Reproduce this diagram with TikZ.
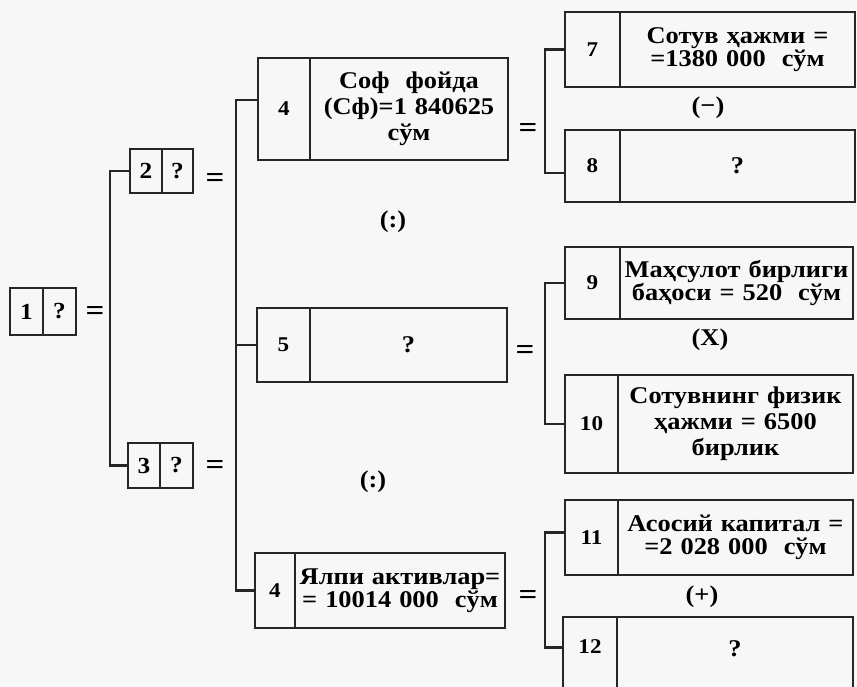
\documentclass[tikz,border=0pt]{standalone}
\usepackage{fontspec}
\setmainfont{Liberation Serif}[FakeStretch=1.1]
\begin{document}
\begin{tikzpicture}[x=1pt,y=-1pt,
  every node/.style={inner sep=0pt, outer sep=0pt},
  ln/.style={line width=2.2pt, draw=black!85},
  cell/.style={ln, rectangle, anchor=north west, font=\bfseries\fontsize{21}{22}\selectfont},
  bigcell/.style={cell, font=\bfseries\fontsize{23}{25}\selectfont},
  tcell/.style={ln, rectangle, anchor=north west, align=center, font=\bfseries\fontsize{24}{23}\selectfont},
  tcellw/.style={tcell, font=\bfseries\fontsize{24}{26}\selectfont},
  qm/.style={font=\bfseries\fontsize{24}{26}\selectfont},
  op/.style={font=\bfseries\fontsize{24}{26}\selectfont},
  eq/.style={font=\bfseries\fontsize{30}{30}\selectfont},
  conn/.style={ln, line cap=rect}
]
\fill[black!3] (0,0) rectangle (857,687);
\clip (0,0) rectangle (857,687);

% box 1
\node[bigcell, minimum width=33pt, minimum height=47pt] (b1n) at (10,288) {1};
\node[bigcell, minimum width=33pt, minimum height=47pt] (b1t) at (43,288) {?};
\node[eq] (e1) at (95,313) {=};

% box 2
\node[bigcell, minimum width=32pt, minimum height=44pt] (b2n) at (130,149) {2};
\node[bigcell, minimum width=31pt, minimum height=44pt] (b2t) at (162,149) {?};
\node[eq] (e2) at (215,180) {=};

% box 3
\node[bigcell, minimum width=32pt, minimum height=45pt] (b3n) at (128,443) {3};
\node[bigcell, minimum width=33pt, minimum height=45pt] (b3t) at (160,443) {?};
\node[eq] (e3) at (215,467) {=};

% box 4 (top)
\node[cell, minimum width=52pt, minimum height=102pt] (b4n) at (258,58) {4};
\node[tcellw, minimum width=198pt, minimum height=102pt, text width=198pt] (b4t) at (310,58) {Соф\ \ фойда\\(Сф)=1 840625\\сўм};
\node[eq] (e4) at (528,130) {=};

% box 5
\node[cell, minimum width=53pt, minimum height=74pt] (b5n) at (257,308) {5};
\node[cell, minimum width=197pt, minimum height=74pt, qm] (b5t) at (310,308) {?};
\node[eq] (e5) at (525,352) {=};

% box 4 (bottom)
\node[cell, minimum width=40pt, minimum height=75pt] (b4bn) at (255,553) {4};
\node[tcell, minimum width=210pt, minimum height=75pt, text width=210pt] (b4bt) at (295,553) {Ялпи активлар=\\= 10014 000 \ сўм};
\node[eq] (e6) at (528,597) {=};

% box 7
\node[cell, minimum width=55pt, minimum height=75pt] (b7n) at (565,12) {7};
\node[tcell, minimum width=235pt, minimum height=75pt, text width=235pt] (b7t) at (620,12) {Сотув ҳажми =\\=1380 000 \ сўм};
% box 8
\node[cell, minimum width=55pt, minimum height=72pt] (b8n) at (565,130) {8};
\node[cell, minimum width=235pt, minimum height=72pt, qm] (b8t) at (620,130) {?};
% box 9
\node[cell, minimum width=55pt, minimum height=72pt] (b9n) at (565,247) {9};
\node[tcell, minimum width=233pt, minimum height=72pt, text width=233pt] (b9t) at (620,247) {Маҳсулот бирлиги\\баҳоси = 520 \ сўм};
% box 10
\node[cell, minimum width=53pt, minimum height=98pt] (b10n) at (565,375) {10};
\node[tcellw, minimum width=235pt, minimum height=98pt, text width=235pt] (b10t) at (618,375) {Сотувнинг физик\\ҳажми = 6500\\бирлик};
% box 11
\node[cell, minimum width=53pt, minimum height=75pt] (b11n) at (565,500) {11};
\node[tcell, minimum width=235pt, minimum height=75pt, text width=235pt] (b11t) at (618,500) {Асосий капитал =\\=2 028 000 \ сўм};
% box 12
\node[cell, minimum width=54pt, minimum height=83pt] (b12n) at (563,617) {};
\node[cell, minimum width=236pt, minimum height=83pt] (b12t) at (617,617) {};
\node[cell, draw=none, anchor=center] (b12lab) at (590,647) {12};
\node[qm] (b12q) at (735,649) {?};

% operation labels
\node[op] (o1) at (708,108) {(−)};
\node[op] (o2) at (710,340) {(X)};
\node[op] (o3) at (702,597) {(+)};
\node[op] (o4) at (393,222) {(:)};
\node[op] (o5) at (373,482) {(:)};

% connectors (brackets)
\draw[conn] (b2n.west) -- ++(-20,0) |- (b3n.west);
\draw[conn] ([yshift=9pt]b4n.west) -- ++(-22,0) |- (b4bn.west);
\draw[conn] (b5n.west) -- ++(-21,0);
\draw[conn] (b7n.west) -- ++(-20,0) |- ([yshift=-7pt]b8n.west);
\draw[conn] (b9n.west) -- ++(-20,0) |- (b10n.west);
\draw[conn] ([yshift=5pt]b11n.west) -- ++(-20,0) |- ([yshift=11pt]b12n.west);
\end{tikzpicture}
\end{document}
